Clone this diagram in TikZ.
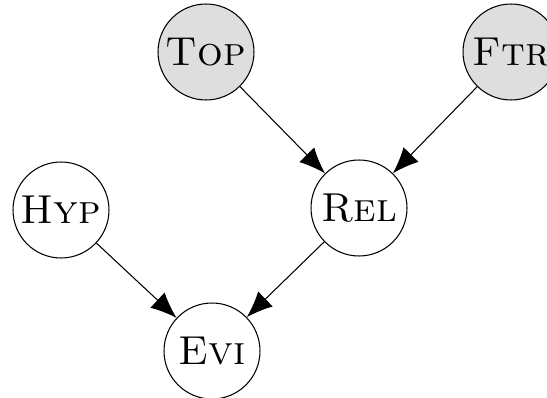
\documentclass[tikz,border=0pt]{standalone}
\usetikzlibrary{arrows.meta}
\begin{document}
\begin{tikzpicture}[x=0.02cm,y=-0.02cm,
  var/.style={circle,draw,line width=0.6pt,minimum size=1.92cm,inner sep=0pt,font=\fontsize{23}{28}\selectfont},
  obs/.style={var,fill=obsgray},
  edge/.style={line width=0.6pt,-{Latex[length=0.52cm,width=0.42cm]}}]
\definecolor{obsgray}{HTML}{DEDEDE}
\useasboundingbox (0,0) rectangle (547,398);
\node[obs] (top) at (206,52) {\textsc{Top}};
\node[obs] (ftr) at (511,52) {\textsc{Ftr}};
\node[var] (hyp) at (61,210) {\textsc{Hyp}};
\node[var] (rel) at (359,208) {\textsc{Rel}};
\node[var] (evi) at (212,351) {\textsc{Evi}};
\draw[edge] (top) -- (rel);
\draw[edge] (ftr) -- (rel);
\draw[edge] (hyp) -- (evi);
\draw[edge] (rel) -- (evi);
\end{tikzpicture}
\end{document}
